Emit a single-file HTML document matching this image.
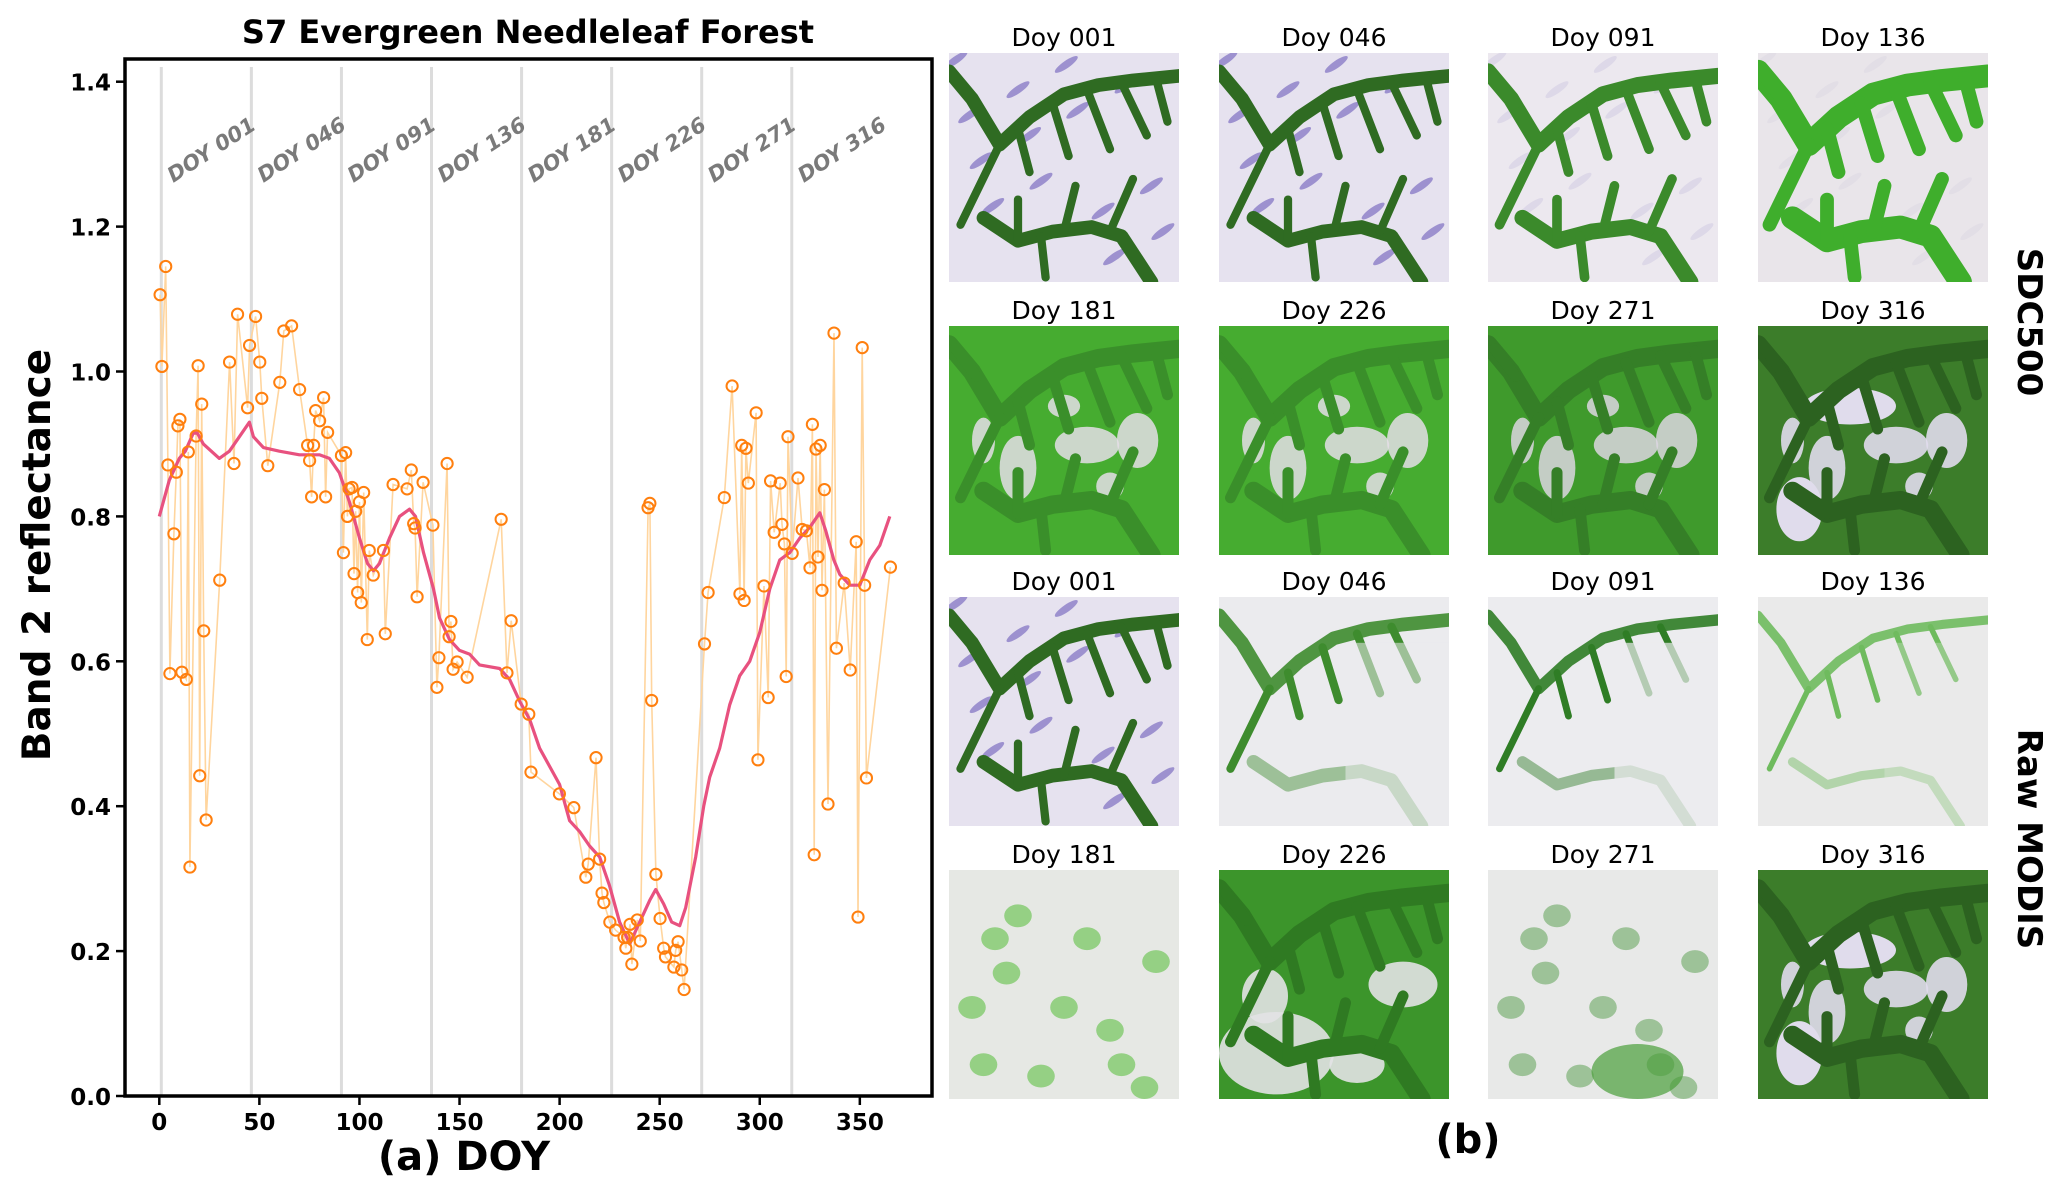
<!DOCTYPE html>
<html><head><meta charset="utf-8"><style>
html,body{margin:0;padding:0;background:#fff;}
svg{display:block;}
text{font-family:"DejaVu Sans","Liberation Sans",sans-serif;}
</style></head><body>
<svg id="fig" width="2060" height="1199" viewBox="0 0 2060 1199" xmlns="http://www.w3.org/2000/svg">
<rect width="2060" height="1199" fill="#fff"/>
<g id="chart"></g>
<g id="tiles"></g>
<text x="528" y="43" text-anchor="middle" font-size="32" font-weight="bold">S7 Evergreen Needleleaf Forest</text>
<text x="464" y="1170" text-anchor="middle" font-size="40" font-weight="bold" font-family="Liberation Sans, sans-serif">(a) DOY</text>
<text transform="translate(50,555) rotate(-90)" text-anchor="middle" font-size="39" font-weight="bold">Band 2 reflectance</text>
<text x="1468" y="1153" text-anchor="middle" font-size="40" font-weight="bold" font-family="Liberation Sans, sans-serif">(b)</text>
<text transform="translate(2018,322) rotate(90)" text-anchor="middle" font-size="34" font-weight="bold">SDC500</text>
<text transform="translate(2018,839) rotate(90)" text-anchor="middle" font-size="34" font-weight="bold">Raw MODIS</text>
</svg>
<script>
const doys = [0.4,1.3,3.2,4.3,5.3,7.3,8.5,9.3,10.3,11.3,13.5,14.5,15.3,18.4,19.4,20.2,21.2,22.2,23.4,30.2,35.1,37.3,39.1,44.1,45.1,48.1,50.2,51.2,54.2,60.2,62.2,66.1,70.1,74.1,75.1,76.1,77.1,78.1,80.1,82.1,83.1,84.1,91.0,92.0,93.1,94.0,94.8,96.3,97.3,98.1,99.1,100.0,100.9,102.1,103.9,104.9,106.9,112.0,112.9,116.8,123.8,125.9,127.1,127.8,128.8,131.8,136.7,138.7,139.7,143.8,144.8,145.7,146.8,148.8,153.8,170.8,173.7,175.8,180.8,184.6,185.7,199.9,207.1,213.1,214.3,218.2,220.0,221.2,222.1,225.1,228.0,232.2,233.1,234.0,235.2,236.1,238.8,240.3,244.2,245.1,246.0,248.1,250.2,252.0,252.9,257.1,258.0,259.2,261.0,262.2,272.4,274.2,282.3,286.2,290.1,291.0,292.2,293.1,294.3,298.2,299.1,302.1,304.2,305.4,307.2,310.2,311.1,312.3,313.2,314.1,316.2,319.1,321.2,323.3,325.1,326.3,327.2,328.1,329.1,330.2,331.1,332.3,334.1,337.1,338.3,342.2,345.2,348.2,349.1,351.2,352.4,353.3,365.3];
const refl = [1.106,1.007,1.145,0.871,0.583,0.776,0.861,0.925,0.934,0.585,0.575,0.889,0.316,0.911,1.008,0.442,0.955,0.642,0.381,0.712,1.013,0.873,1.079,0.950,1.036,1.076,1.013,0.963,0.870,0.985,1.056,1.063,0.975,0.898,0.877,0.827,0.898,0.946,0.932,0.964,0.827,0.916,0.884,0.750,0.888,0.800,0.838,0.840,0.721,0.807,0.695,0.820,0.681,0.833,0.630,0.753,0.719,0.753,0.638,0.844,0.838,0.864,0.790,0.784,0.689,0.847,0.788,0.564,0.605,0.873,0.634,0.655,0.589,0.599,0.578,0.796,0.584,0.656,0.541,0.527,0.447,0.417,0.398,0.302,0.320,0.467,0.327,0.280,0.267,0.240,0.229,0.219,0.204,0.219,0.237,0.182,0.243,0.214,0.812,0.818,0.546,0.306,0.245,0.204,0.192,0.178,0.201,0.213,0.174,0.147,0.624,0.695,0.826,0.980,0.693,0.898,0.684,0.894,0.846,0.943,0.464,0.704,0.550,0.849,0.778,0.846,0.789,0.762,0.579,0.910,0.749,0.853,0.782,0.780,0.729,0.927,0.333,0.893,0.744,0.898,0.698,0.837,0.403,1.053,0.618,0.708,0.588,0.765,0.247,1.033,0.705,0.439,0.730];
const smoothDoy = [0,5,10,13,17,19,22,26,30,35,40,45,47,52,60,70,80,85,90,95,100,104,107,110,115,120,125,128,132,137,140,145,150,155,160,170,175,180,185,190,200,205,210,215,220,225,230,235,240,245,248,252,256,260,263,268,272,275,280,285,290,295,300,305,310,315,320,325,330,333,337,340,345,350,355,360,365];
const smoothVal = [0.80,0.85,0.88,0.89,0.915,0.915,0.90,0.89,0.88,0.89,0.91,0.93,0.91,0.895,0.89,0.885,0.885,0.88,0.86,0.82,0.77,0.735,0.725,0.735,0.77,0.80,0.81,0.80,0.75,0.70,0.66,0.63,0.615,0.61,0.595,0.59,0.575,0.545,0.52,0.48,0.43,0.38,0.365,0.345,0.33,0.29,0.24,0.21,0.24,0.27,0.285,0.265,0.24,0.235,0.26,0.33,0.40,0.44,0.48,0.54,0.58,0.60,0.64,0.70,0.74,0.75,0.77,0.785,0.805,0.78,0.74,0.72,0.705,0.705,0.74,0.76,0.80];
const xTicks = [0,50,100,150,200,250,300,350];
const yTicks = [0.0,0.2,0.4,0.6,0.8,1.0,1.2,1.4];
const yTickLabels = ["0.0","0.2","0.4","0.6","0.8","1.0","1.2","1.4"];
const doyMarks = [1,46,91,136,181,226,271,316];
const doyMarkLabels = ["DOY 001","DOY 046","DOY 091","DOY 136","DOY 181","DOY 226","DOY 271","DOY 316"];

const NS="http://www.w3.org/2000/svg";
const X0=125,X1=932,Y0=59,Y1=1096;
function xs(d){return 159.3+d*2.0015;}
function ys(v){return 1096-v*724.5;}
function mk(tag,attrs,parent){const e=document.createElementNS(NS,tag);for(const k in attrs)e.setAttribute(k,attrs[k]);parent.appendChild(e);return e;}
const chart=document.getElementById('chart');

doyMarks.forEach((d,i)=>{
  const l=mk('line',{x1:xs(d),x2:xs(d),y1:Y0+8,y2:Y1,stroke:'#dcdcdc','stroke-width':3},chart);
  
  
});
doyMarks.forEach((d,i)=>{
  const t=mk('text',{transform:`translate(${xs(d)+12},${183}) rotate(-33)`,'font-size':21,'font-weight':'bold','font-style':'italic',fill:'#7a7a7a'},chart);
  t.textContent=doyMarkLabels[i];
  
  
});

const rawPts=doys.map((d,i)=>xs(d).toFixed(1)+','+ys(refl[i]).toFixed(1)).join(' ');
const rl=mk('polyline',{points:rawPts,fill:'none',stroke:'#ffd59e','stroke-width':1.6},chart);



const smPts=smoothDoy.map((d,i)=>xs(d).toFixed(1)+','+ys(smoothVal[i]).toFixed(1)).join(' ');
const sl=mk('polyline',{points:smPts,fill:'none',stroke:'#e8517f','stroke-width':3.2,'stroke-linejoin':'round'},chart);



doys.forEach((d,i)=>{
  const c=mk('circle',{cx:xs(d),cy:ys(refl[i]),r:5.6,fill:'none',stroke:'#ff7f0e','stroke-width':2},chart);
  
  
});

const fr=mk('rect',{x:X0,y:Y0,width:X1-X0,height:Y1-Y0,fill:'none',stroke:'#000','stroke-width':3.5},chart);



xTicks.forEach(v=>{
  mk('line',{x1:xs(v),x2:xs(v),y1:Y1,y2:Y1+9,stroke:'#000','stroke-width':2.5},chart);
  const t=mk('text',{x:xs(v),y:1130,'text-anchor':'middle','font-size':23,'font-weight':'bold'},chart);
  t.textContent=v;
  
  
});
yTicks.forEach((v,i)=>{
  mk('line',{x1:X0-9,x2:X0,y1:ys(v),y2:ys(v),stroke:'#000','stroke-width':2.5},chart);
  const t=mk('text',{x:X0-14,y:ys(v)+9,'text-anchor':'end','font-size':23,'font-weight':'bold'},chart);
  t.textContent=yTickLabels[i];
  
  
});

/* image tiles */
const tilesG=document.getElementById('tiles');
const colX=[949,1219,1488,1758], rowY=[53,326,597,870];
const labels=["Doy 001","Doy 046","Doy 091","Doy 136","Doy 181","Doy 226","Doy 271","Doy 316"];
const types=["snowDark","snowDark","snowLight","greenSnow","green","green","green2","darkGreen",
             "snowDark","cloudA","cloudB","cloudC","cloudD","rawGreen","cloudE","darkGreen"];
const mainV="M0,8 L10,20 L22,40 L35,28 L50,18 L65,14 L80,12 L100,10";
const branches=["M22,40 L5,75","M30,33 L35,52","M45,22 L52,45","M60,16 L70,42","M75,13 L86,36","M90,11 L95,30","M12,22 L3,10"];
const lowV="M15,72 L30,82 L45,78 L62,76 L75,80 L88,100";
const lowB=["M30,82 L30,64","M50,78 L55,58","M70,78 L80,55","M40,80 L42,98"];
const sty={
 snowDark:{bg:'#e6e2ef',pur:'#7d6fc2',v:'#2f6b22',vw:6,pw:0.35},
 snowLight:{bg:'#ece8ef',pur:'#b9b2d8',v:'#3b8a2b',vw:7,pw:0.15},
 greenSnow:{bg:'#e9e5ea',pur:'#c8c2d8',v:'#3fae2c',vw:10,pw:0.1},
 green:{bg:'#46ac30',v:'#3a8f2a',vw:8,snow:'#e4dee6'},
 green2:{bg:'#3f9a2c',v:'#357f27',vw:8,snow:'#dcd6e0'},
 darkGreen:{bg:'#3c7d2a',v:'#2c6220',vw:8,snow:'#e0dcec',darkSnow:true},
 cloudA:{bg:'#ebebee',v:'#3e8c2e',vw:6,partial:0.55},
 cloudB:{bg:'#ececef',v:'#2f7d25',vw:5,partial:0.7},
 cloudC:{bg:'#eaeaea',v:'#6fbb5e',vw:4,partial:0.3},
 cloudD:{bg:'#e6e8e4',v:'#5fbf45',vw:5,speckle:true},
 cloudE:{bg:'#e8e9e8',v:'#6aa862',vw:5,speckle2:true},
 rawGreen:{bg:'#3c952b',v:'#2f7a22',vw:8,cloud:true}
};
function tile(idx){
  const col=idx%4,row=Math.floor(idx/4);
  const x=colX[col],y=rowY[row];
  const t=mk('text',{x:x+115,y:y-7,'text-anchor':'middle','font-size':25},tilesG);
  t.textContent=labels[idx%8];
  
  
  const s=mk('svg',{x:x,y:y,width:230,height:229,viewBox:'0 0 100 100',preserveAspectRatio:'none'},tilesG);
  
  
  const st=sty[types[idx]];
  mk('rect',{width:100,height:100,fill:st.bg},s);
  if(st.pur){
    for(let k=0;k<14;k++){
      const px=(k*37)%95, py=(k*53)%95;
      mk('ellipse',{cx:px+3,cy:py+3,rx:6,ry:1.6,fill:st.pur,opacity:st.pw*2,transform:`rotate(-35 ${px+3} ${py+3})`},s);
    }
  }
  if(st.snow){
    [[60,52,14,8],[30,62,8,14],[82,50,9,12],[50,35,7,5],[15,50,5,10],[70,70,6,6]].forEach(e=>{
      mk('ellipse',{cx:e[0],cy:e[1],rx:e[2],ry:e[3],fill:st.snow,opacity:st.darkSnow?0.9:0.85},s);
    });
    if(st.darkSnow){
      mk('ellipse',{cx:40,cy:35,rx:20,ry:8,fill:st.snow},s);
      mk('ellipse',{cx:18,cy:80,rx:10,ry:14,fill:st.snow},s);
    }
  }
  if(st.cloud){
    [[25,80,25,18],[80,50,15,10],[60,85,12,8],[20,55,10,12]].forEach(e=>mk('ellipse',{cx:e[0],cy:e[1],rx:e[2],ry:e[3],fill:'#e2e2e4',opacity:0.9},s));
  }
  const g=mk('g',{fill:'none',stroke:st.v,'stroke-width':st.vw,'stroke-linecap':'round','stroke-linejoin':'round'},s);
  if(st.partial){
    mk('path',{d:mainV,opacity:0.9},g);
    branches.slice(0,5).forEach(b=>mk('path',{d:b,'stroke-width':st.vw*0.6},g));
    mk('path',{d:lowV,opacity:0.45},g);
    mk('rect',{x:55,y:20,width:45,height:80,fill:st.bg,stroke:'none',opacity:st.partial},s);
  } else if(st.speckle||st.speckle2){
    [[30,20],[25,45],[20,30],[70,70],[75,85],[40,90],[85,95],[60,30],[10,60],[15,85],[50,60],[90,40]].forEach(p=>mk('ellipse',{cx:p[0],cy:p[1],rx:6,ry:5,fill:st.v,stroke:'none',opacity:0.6},s));
    if(st.speckle2){mk('ellipse',{cx:65,cy:88,rx:20,ry:12,fill:'#4a9e3a',stroke:'none',opacity:0.7},s);}
  } else {
    mk('path',{d:mainV},g);
    branches.forEach(b=>mk('path',{d:b,'stroke-width':st.vw*0.6},g));
    mk('path',{d:lowV},g);
    lowB.forEach(b=>mk('path',{d:b,'stroke-width':st.vw*0.6},g));
  }
}
for(let i=0;i<16;i++)tile(i);
</script>
</body></html>
